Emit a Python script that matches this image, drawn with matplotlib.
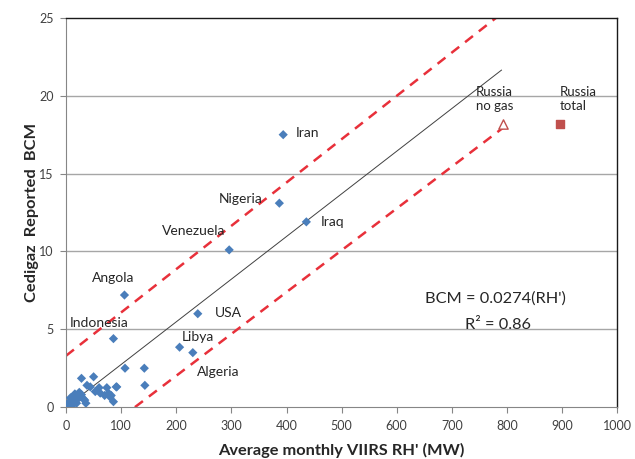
import numpy as np
import matplotlib
matplotlib.use("Agg")
import matplotlib.pyplot as plt

plt.rcParams['font.family'] = ['Lato', 'DejaVu Sans']

# country points (Average monthly VIIRS RH' MW, Cedigaz BCM)
rh = [394, 387, 436, 296, 239, 106, 86, 206, 230, 107, 142, 143, 91, 50, 28,
      74, 60, 53, 70, 82, 86, 38, 44, 36, 62, 77, 80, 92,
      1, 4, 7, 10, 13, 16, 19, 22, 25, 28, 31, 34, 12, 18, 24, 3, 8]
bcm = [17.5, 13.1, 11.9, 10.1, 6.0, 7.2, 4.4, 3.85, 3.5, 2.5, 2.5, 1.4, 1.3, 1.95, 1.85,
       1.25, 1.25, 1.0, 0.75, 0.75, 0.35, 1.4, 1.3, 0.25, 0.9, 0.9, 0.65, 1.3,
       0.05, 0.25, 0.35, 0.45, 0.65, 0.85, 0.25, 0.55, 0.65, 0.8, 0.55, 0.45, 0.15, 0.5, 0.95, 0.1, 0.6]

russia_nogas = (793, 18.2)
russia_total = (897, 18.2)

slope = 0.0274
fit_x = [0, 790]
upper_x, upper_y = [0, 780], [3.3, 25]
lower_x, lower_y = [125, 795], [0, 18.0]

labels = [("Iran", 416, 17.6, 'left'), ("Nigeria", 316, 13.4, 'center'),
          ("Iraq", 463, 11.9, 'left'), ("Venezuela", 231, 11.3, 'center'),
          ("Angola", 86, 8.3, 'center'), ("USA", 270, 6.05, 'left'),
          ("Indonesia", 60, 5.4, 'center'), ("Libya", 240, 4.5, 'center'),
          ("Algeria", 276, 2.25, 'center')]

fig = plt.figure(figsize=(6.35, 4.59), dpi=100)
ax = fig.add_axes([0.104, 0.113, 0.868, 0.848])

ax.set_xlim(0, 1000)
ax.set_ylim(0, 25)
ax.set_xticks(range(0, 1001, 100))
ax.set_yticks(range(0, 26, 5))

for yv in [5, 10, 15, 20]:
    ax.axhline(yv, color='#a6a6a6', lw=1.0, zorder=0)

ax.plot(fit_x, [slope * v for v in fit_x], color='#404040', lw=0.7, zorder=2)
ax.plot(upper_x, upper_y, color='#e8303a', lw=1.8, ls=(0, (4, 3)), zorder=2)
ax.plot(lower_x, lower_y, color='#e8303a', lw=1.8, ls=(0, (4, 3)), zorder=2)

ax.scatter(rh, bcm, marker='D', s=22, color='#4a7ebb', edgecolors='none', zorder=3)
ax.scatter([russia_nogas[0]], [russia_nogas[1]], marker='^', s=45,
           facecolors='white', edgecolors='#c0504d', lw=1.0, zorder=3)
ax.scatter([russia_total[0]], [russia_total[1]], marker='s', s=28,
           color='#c0504d', zorder=3)

for name, x, y, ha in labels:
    ax.text(x, y, name, ha=ha, va='center', fontsize=10, color='#262626')
ax.text(744, 19.8, "Russia\nno gas", ha='left', va='center', fontsize=9.5,
        color='#262626', linespacing=1.25)
ax.text(895, 19.8, "Russia\ntotal", ha='left', va='center', fontsize=9.5,
        color='#262626', linespacing=1.25)

ax.text(651, 7.0, "BCM = 0.0274(RH')", ha='left', va='center', fontsize=11.8, color='#262626')
ax.text(783, 5.3, "R² = 0.86", ha='center', va='center', fontsize=11.8, color='#262626')

for s in ['left', 'bottom']:
    ax.spines[s].set_color('#868686')
for s in ['top', 'right']:
    ax.spines[s].set_color('#1a1a1a')
    ax.spines[s].set_linewidth(1.0)

ax.tick_params(axis='both', direction='out', length=4, color='#868686',
               labelsize=9, labelcolor='#404040', pad=5)

ax.set_xlabel("Average monthly VIIRS RH' (MW)", fontsize=11.8, fontweight='bold',
              color='#262626', labelpad=8)
ax.set_ylabel("Cedigaz  Reported  BCM", fontsize=11.8, fontweight='bold',
              color='#262626', labelpad=0)

fig.savefig("out.png", dpi=100)
